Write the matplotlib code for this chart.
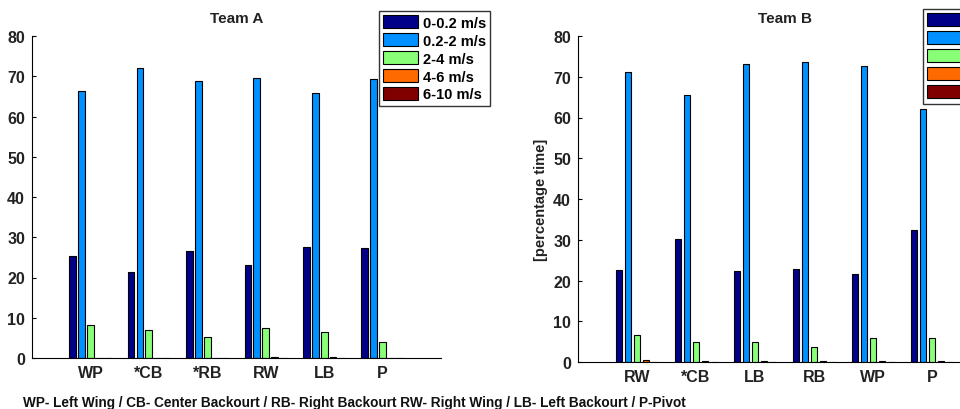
import numpy as np
import matplotlib
matplotlib.use('Agg')
import matplotlib.pyplot as plt

plt.rcParams['font.family'] = ['Liberation Sans', 'DejaVu Sans']
plt.rcParams['font.weight'] = 'bold'

# speed zones and colours (jet-like, MATLAB style)
speed_labels = ['0-0.2 m/s', '0.2-2 m/s', '2-4 m/s', '4-6 m/s', '6-10 m/s']
speed_colors = ['#000088', '#0090ff', '#88ff77', '#ff6a00', '#800000']

# Team A
positions_a = ['WP', '*CB', '*RB', 'RW', 'LB', 'P']
team_a_0_02 = [25.4, 21.3, 26.5, 23.0, 27.7, 27.3]
team_a_02_2 = [66.4, 72.1, 68.8, 69.6, 65.8, 69.2]
team_a_2_4 = [8.2, 7.0, 5.1, 7.5, 6.5, 3.9]
team_a_4_6 = [0.0, 0.0, 0.0, 0.3, 0.3, 0.0]
team_a_6_10 = [0.0, 0.0, 0.0, 0.1, 0.1, 0.0]

# Team B
positions_b = ['RW', '*CB', 'LB', 'RB', 'WP', 'P']
team_b_0_02 = [22.5, 30.2, 22.3, 22.8, 21.6, 32.4]
team_b_02_2 = [71.2, 65.4, 73.1, 73.5, 72.7, 62.1]
team_b_2_4 = [6.6, 5.0, 5.0, 3.8, 6.0, 6.0]
team_b_4_6 = [0.6, 0.3, 0.3, 0.3, 0.3, 0.3]
team_b_6_10 = [0.1, 0.1, 0.1, 0.1, 0.1, 0.1]

footnote = ('WP- Left Wing / CB- Center Backourt / RB- Right Backourt '
            'RW- Right Wing / LB- Left Backourt / P-Pivot')

W, H = 960, 410
fig = plt.figure(figsize=(W / 100, H / 100), dpi=100)


def draw_panel(rect, cats, series, title, ylabel=None, legend_xy=None):
    ax = fig.add_axes(rect)
    x = np.arange(1, len(cats) + 1)
    pitch = 0.152
    for i, vals in enumerate(series):
        ax.bar(x + (i - 2) * pitch, vals, width=0.115, color=speed_colors[i],
               edgecolor='black', linewidth=0.8, label=speed_labels[i])
    ax.set_xlim(0, 7)
    ax.set_ylim(0, 80)
    ax.set_yticks(range(0, 81, 10))
    ax.set_xticks(x)
    ax.set_xticklabels(cats, fontsize=11.5, fontweight='bold', color='#222222')
    ax.tick_params(axis='x', length=0, pad=5)
    ax.tick_params(axis='y', direction='in', length=3, pad=5, labelsize=11.5,
                   labelcolor='#222222')
    for lab in ax.get_yticklabels():
        lab.set_fontweight('bold')
    ax.spines['top'].set_visible(False)
    ax.spines['right'].set_visible(False)
    ax.set_title(title, fontsize=11, fontweight='bold', color='#222222', pad=10)
    if ylabel:
        ax.set_ylabel(ylabel, fontsize=10.5, fontweight='bold', color='#222222',
                      labelpad=4)
    leg = ax.legend(loc='upper left', bbox_to_anchor=legend_xy,
                    bbox_transform=fig.transFigure, fontsize=10.5, frameon=True,
                    fancybox=False, edgecolor='black', handlelength=2.4,
                    handleheight=0.95, handletextpad=0.3, labelspacing=0.25,
                    borderpad=0.3, borderaxespad=0)
    leg.get_frame().set_linewidth(1.0)
    for t in leg.get_texts():
        t.set_fontweight('bold')
    return ax


draw_panel([32 / W, 1 - 359 / H, 409 / W, 322 / H], positions_a,
           [team_a_0_02, team_a_02_2, team_a_2_4, team_a_4_6, team_a_6_10],
           'Team A', legend_xy=(379 / W, 1 - 12 / H))

draw_panel([578 / W, 1 - 363 / H, 413 / W, 326 / H], positions_b,
           [team_b_0_02, team_b_02_2, team_b_2_4, team_b_4_6, team_b_6_10],
           'Team B', ylabel='[percentage time]', legend_xy=(923 / W, 1 - 10 / H))

fig.text(23 / W, 1 - 403 / H, footnote, fontsize=9.8, fontweight='bold',
         va='center', ha='left', color='#111111')

fig.savefig('out.png', dpi=100)
